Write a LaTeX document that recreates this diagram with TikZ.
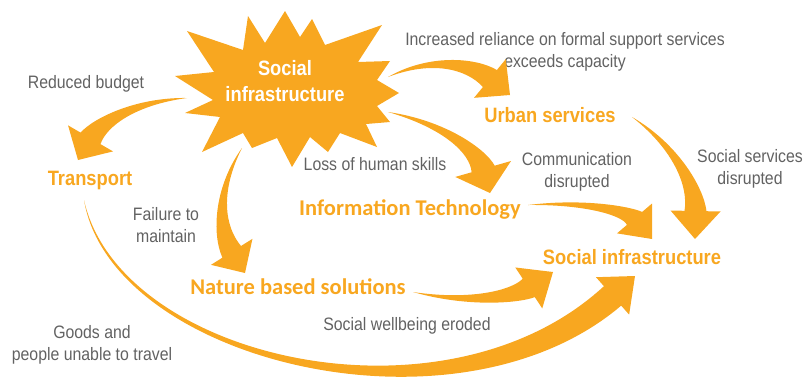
\documentclass[tikz,border=0pt]{standalone}
\usepackage{fontspec}
\usetikzlibrary{calc}

\newfontfamily\arialn{Liberation Sans}[FakeStretch=0.88]
\newfontfamily\calib{Carlito}
\definecolor{flowor}{RGB}{248,167,32}
\definecolor{notegray}{RGB}{98,98,98}

% tapered arrow: tail, control 1, control 2, tip, shaft half width, head half width, head length (px)
\newcommand{\flowarrow}[7]{%
  \coordinate (ft) at (#1);
  \coordinate (fp) at (#4);
  \coordinate (fb) at ($(fp)!#7*0.25mm!(#3)$);
  \coordinate (fbl) at ($(fb)!#5*0.25mm!90:(fp)$);
  \coordinate (fbr) at ($(fb)!#5*0.25mm!-90:(fp)$);
  \coordinate (fhl) at ($(fb)!#6*0.25mm!90:(fp)$);
  \coordinate (fhr) at ($(fb)!#6*0.25mm!-90:(fp)$);
  \coordinate (fcl) at ($(#2)!#5*0.0833mm!-90:(ft)$);
  \coordinate (fcr) at ($(#2)!#5*0.0833mm!90:(ft)$);
  \coordinate (fdl) at ($(#3)!#5*0.1667mm!90:(fp)$);
  \coordinate (fdr) at ($(#3)!#5*0.1667mm!-90:(fp)$);
  \fill[flow] (ft) .. controls (fcl) and (fdl) .. (fbl) -- (fhl) -- (fp)
    -- (fhr) -- (fbr) .. controls (fdr) and (fcr) .. (ft) -- cycle;
}

\begin{document}
\begin{tikzpicture}[x=0.25mm, y=0.25mm,
    flow/.style={fill=flowor},
    note/.style={font=\arialn\fontsize{12.8}{16}\selectfont, text=notegray, align=center, inner sep=0pt},
    topic/.style={font=\arialn\bfseries\fontsize{14.8}{18}\selectfont, text=flowor, inner sep=0pt, anchor=base},
    topiccal/.style={font=\calib\bfseries\fontsize{16}{19}\selectfont, text=flowor, inner sep=0pt, anchor=base},
    corelabel/.style={font=\arialn\bfseries\fontsize{14.8}{19}\selectfont, text=white, align=center, inner sep=0pt}]
    \useasboundingbox (0,0) rectangle (806,-379);

    % the burst
    \fill[flow] (285,-11) -- (300,-37) -- (312,-19) -- (325,-45) -- (382,-25) -- (358,-62)
        -- (390,-61) -- (377,-80) -- (399,-93) -- (377,-106) -- (390,-122) -- (366,-124)
        -- (377,-147) -- (340,-133) -- (328,-152) -- (310,-137) -- (292,-167) -- (277,-138)
        -- (252,-148) -- (243,-133) -- (202,-152) -- (220,-117) -- (185,-113) -- (213,-100)
        -- (175,-76) -- (214,-72) -- (187,-31) -- (243,-50) -- (248,-16) -- (265,-43) -- cycle;
    \node (core) [corelabel] at (285,-81) {Social\\infrastructure};

    \node (transport) [topic] at (90,-185) {Transport};
    \node (urban) [topic] at (550,-122) {Urban services};
    \node (it) [topiccal] at (410,-215) {Information Technology};
    \node (nature) [topiccal] at (298,-294.5) {Nature based solutions};
    \node (social) [topic] at (632,-264) {Social infrastructure};

    \node (budget) [note, anchor=base] at (86,-88) {Reduced budget};
    \node (reliance) [note] at (565,-52) {Increased reliance on formal support services\\exceeds capacity};
    \node (skills) [note, anchor=base] at (375,-170) {Loss of human skills};
    \node (comm) [note] at (577,-172) {Communication\\disrupted};
    \node (services) [note] at (750,-169) {Social services\\disrupted};
    \node (maintain) [note] at (166,-225) {Failure to\\maintain};
    \node (wellbeing) [note, anchor=base] at (407,-330) {Social wellbeing eroded};
    \node (travel) [note] at (92,-345) {Goods and\\people unable to travel};

    \flowarrow{[shift={(-98,-17)}]core.center}{136,-101}{100,-122}{[shift={(-12,25)}]transport.base}{11.5}{26}{25}
    \flowarrow{[shift={(103,4)}]core.center}{430,-57}{471,-63}{[shift={(-40,27)}]urban.base}{11}{25}{26}
    \flowarrow{[shift={(103,-31)}]core.center}{444,-124}{478,-151}{[shift={(80,22)}]it.base}{12}{29}{25}
    \flowarrow{[shift={(-43,-67)}]core.center}{217,-189}{218,-230}{[shift={(-53,21.5)}]nature.base}{11}{24.5}{25}
    \flowarrow{[shift={(-6,-15)}]transport.base}{115,-360}{450,-440}{[shift={(3,-12)}]social.base}{13}{25}{30}
    \flowarrow{[shift={(115,2.5)}]nature.base}{468,-304}{515,-297}{[shift={(-79,-8)}]social.base}{11}{24.5}{29}
    \flowarrow{[shift={(118,10)}]it.base}{588,-201}{629,-212}{[shift={(20,25)}]social.base}{10}{23}{27}
    \flowarrow{[shift={(82,5)}]urban.base}{675,-146}{696,-186}{[shift={(63,25)}]social.base}{11}{25}{28}
\end{tikzpicture}
\end{document}
